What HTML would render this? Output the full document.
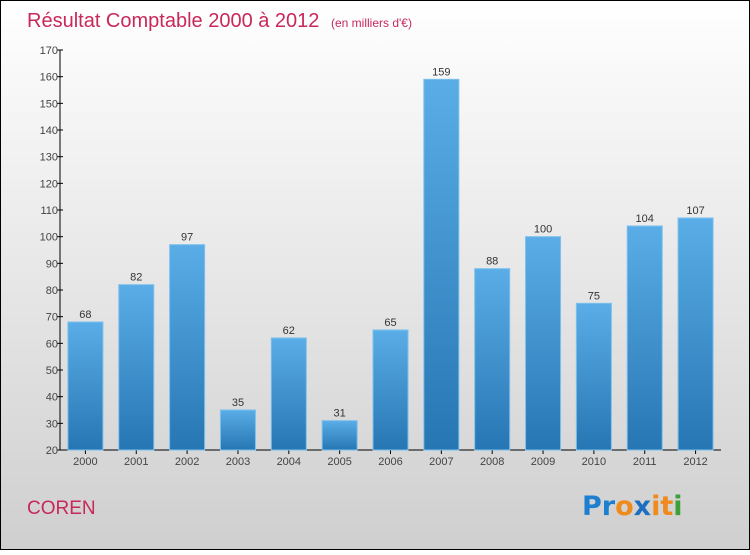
<!DOCTYPE html>
<html><head><meta charset="utf-8"><style>
body{margin:0}
#c{width:750px;height:550px}
</style></head><body>
<svg id="c" width="750" height="550" xmlns="http://www.w3.org/2000/svg" font-family="'Liberation Sans', sans-serif">
<defs>
<linearGradient id="bg" x1="0" y1="0" x2="0" y2="1"><stop offset="0" stop-color="#ffffff"/><stop offset="1" stop-color="#cfcfcf"/></linearGradient>
<linearGradient id="bar" x1="0" y1="0" x2="0" y2="1"><stop offset="0" stop-color="#5aade6"/><stop offset="1" stop-color="#2676b3"/></linearGradient>
</defs>
<rect x="0.5" y="0.5" width="749" height="549" fill="url(#bg)" stroke="#000"/>
<text x="27" y="27" font-size="20" fill="#c8285a">Résultat Comptable 2000 à 2012 <tspan font-size="12" dx="6">(en milliers d'€)</tspan></text>
<text x="27" y="514" font-size="19" fill="#c8285a">COREN</text>
<g font-size="27" font-weight="bold" font-family="'DejaVu Sans', sans-serif">
<text x="582" y="515"><tspan fill="#1e7fd0">Pr</tspan><tspan fill="#f08a1c">o</tspan><tspan fill="#1e6fc0">x</tspan><tspan fill="#f08a1c">i</tspan><tspan fill="#f08a1c">t</tspan><tspan fill="#3aa13a">i</tspan></text>
</g>
<g id="axes"></g>
<g id="bars"></g>
</svg>
<script>
const categories=["2000","2001","2002","2003","2004","2005","2006","2007","2008","2009","2010","2011","2012"];
const values=[68,82,97,35,62,31,65,159,88,100,75,104,107];
const yTicks=[20,30,40,50,60,70,80,90,100,110,120,130,140,150,160,170];
const NS="http://www.w3.org/2000/svg";
const yMin=20,yMax=170,plotTop=50,plotBot=450,plotLeft=60,plotRight=721;
const yS=v=>plotBot-(v-yMin)/(yMax-yMin)*(plotBot-plotTop);
const step=(plotRight-plotLeft)/categories.length;
const xc=i=>plotLeft+step*(i+0.5);
function mk(tag,attrs,parent){const e=document.createElementNS(NS,tag);for(const k in attrs)e.setAttribute(k,attrs[k]);parent.appendChild(e);return e;}
const ax=document.getElementById('axes'),bg=document.getElementById('bars');
let l=mk('line',{x1:plotLeft,y1:plotTop,x2:plotLeft,y2:plotBot,stroke:'#000'},ax);


l=mk('line',{x1:plotLeft,y1:plotBot,x2:plotRight,y2:plotBot,stroke:'#000'},ax);


yTicks.forEach(t=>{
  const tk=mk('line',{x1:plotLeft-3,y1:yS(t),x2:plotLeft+3,y2:yS(t),stroke:'#000'},ax);
  
  
  const tx=mk('text',{x:plotLeft-2,y:yS(t)+4,'font-size':11,fill:'#444','text-anchor':'end'},ax);
  tx.textContent=t;
  
  
});
const bw=35;
categories.forEach((c,i)=>{
  const r=mk('rect',{x:xc(i)-bw/2,y:yS(values[i]),width:bw,height:plotBot-yS(values[i]),fill:'url(#bar)',stroke:'#7cc0ee','stroke-width':1},bg);
  
  
  const v=mk('text',{x:xc(i),y:yS(values[i])-4,'font-size':11,fill:'#333','text-anchor':'middle'},bg);
  v.textContent=values[i];
  
  
  const tk=mk('line',{x1:xc(i),y1:plotBot,x2:xc(i),y2:plotBot+4,stroke:'#000'},ax);
  
  
  const t=mk('text',{x:xc(i),y:plotBot+15,'font-size':11,fill:'#444','text-anchor':'middle'},ax);
  t.textContent=c;
  
  
});
</script>
</body></html>
